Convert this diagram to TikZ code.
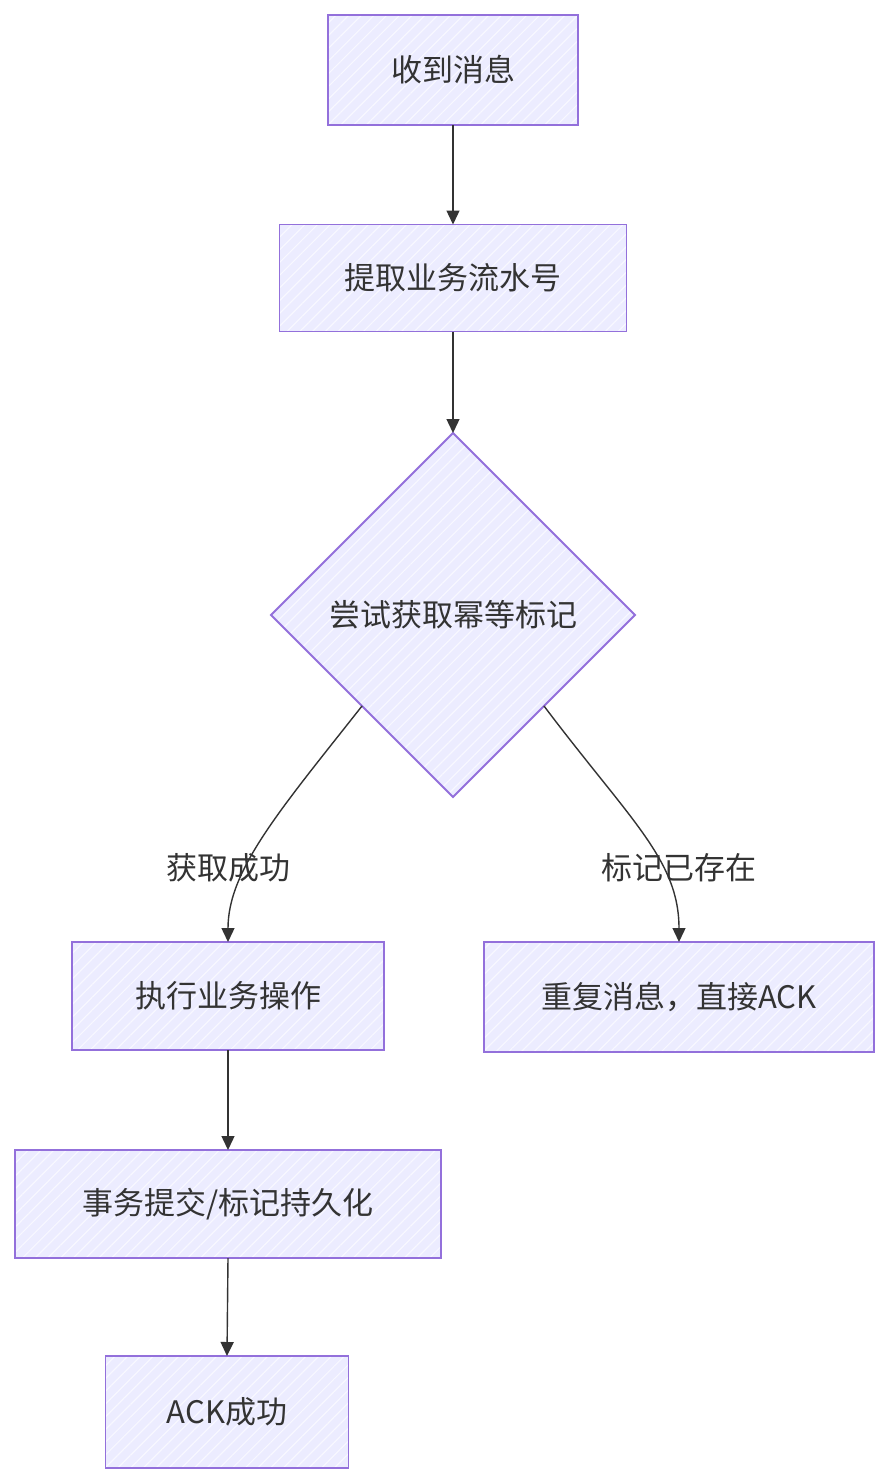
\documentclass[tikz,border=0pt]{standalone}
\usepackage{fontspec}
\setmainfont{Noto Sans CJK SC}
\usetikzlibrary{shapes.geometric,arrows.meta,patterns.meta}
\definecolor{boxfill}{HTML}{ECECFF}
\definecolor{boxline}{HTML}{9370DB}
\definecolor{txt}{HTML}{333333}
\tikzset{
  flowbox/.style={draw=boxline, line width=1.8pt, inner sep=0pt, outer sep=0pt,
    text=txt, font=\fontsize{31}{36}\selectfont,
    preaction={fill=boxfill},
    preaction={pattern={Lines[angle=45,distance=9pt,line width=1.2pt]}, pattern color=white!65!boxfill}},
  decide/.style={flowbox, shape=diamond, aspect=1, minimum width=364pt, minimum height=364pt},
  conn/.style={draw=txt, line width=1.4pt, -{Triangle[length=14pt,width=13pt]}},
  elabel/.style={text=txt, font=\fontsize{31}{36}\selectfont, inner sep=0pt}
}
\begin{document}
\begin{tikzpicture}[x=1pt,y=-1pt]
\useasboundingbox (0,0) rectangle (890,1484);
\node[flowbox, minimum width=250pt, minimum height=110pt] (recv) at (453,70) {收到消息};
\node[flowbox, minimum width=347pt, minimum height=107pt] (extract) at (453,278) {提取业务流水号};
\node[decide] (try) at (453,615) {尝试获取幂等标记};
\node[flowbox, minimum width=312pt, minimum height=108pt] (exec) at (228,996) {执行业务操作};
\node[flowbox, minimum width=390pt, minimum height=110pt] (dup) at (679,997) {重复消息，直接ACK};
\node[flowbox, minimum width=426pt, minimum height=108pt] (commit) at (228,1204) {事务提交/标记持久化};
\node[flowbox, minimum width=243pt, minimum height=112pt] (ack) at (227,1412) {ACK成功};

\draw[conn] (recv.south) -- (extract.north);
\draw[conn] (extract.south) -- (try.north);
\draw[conn] (try.south west) .. controls (280,810) and (228,870) .. (exec.north);
\draw[conn] (try.south east) .. controls (630,820) and (679,860) .. (dup.north);
\draw[conn] (exec.south) -- (commit.north);
\draw[conn] (commit.south) -- (ack.north);

\node[elabel] (lsucc) at (228,868) {获取成功};
\node[elabel] (lexist) at (679,868) {标记已存在};
\end{tikzpicture}
\end{document}
